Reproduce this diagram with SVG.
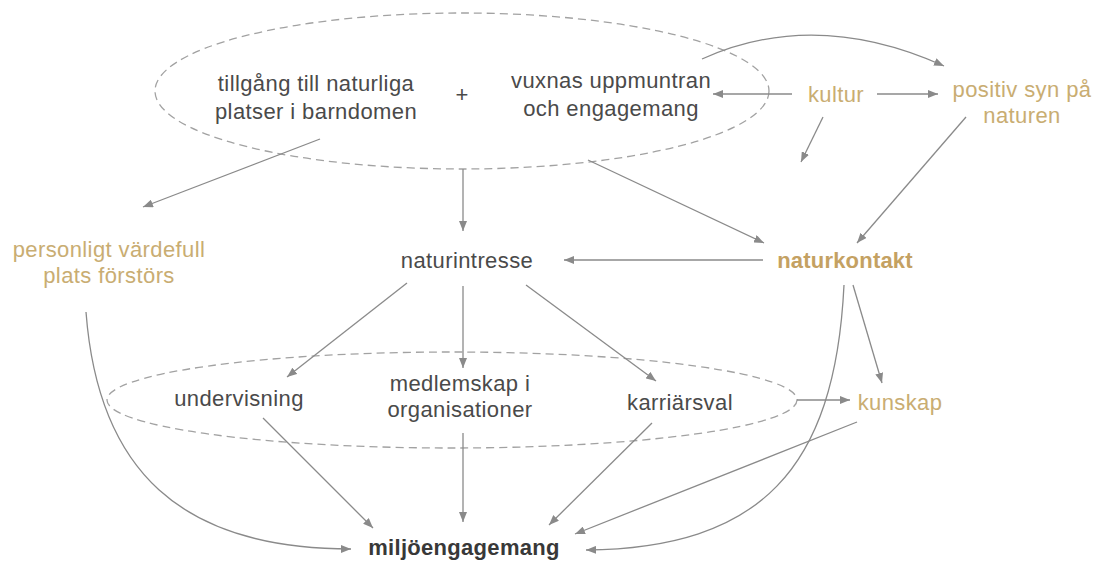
<svg xmlns="http://www.w3.org/2000/svg" width="1101" height="562" viewBox="0 0 1101 562">
<style>
text{font-family:"Liberation Sans",Arial,Helvetica,sans-serif;font-size:22px;text-anchor:middle;letter-spacing:0.4px}
.dk{fill:#4a4a4a}
.gd{fill:#c9ad72}
.bgd{fill:#c4a162;font-weight:bold;letter-spacing:0.2px}
.bdk{fill:#383838;font-weight:bold;letter-spacing:0.3px}
.grp{fill:none;stroke:#a2a2a2;stroke-width:1.3;stroke-dasharray:8 5}
.c{fill:none;stroke:#8a8a8a;stroke-width:1.3;marker-end:url(#ah)}
</style>
<defs>
<marker id="ah" markerUnits="userSpaceOnUse" markerWidth="10" markerHeight="8" refX="10" refY="4" orient="auto">
<path d="M0,0 L10,4 L0,8 z" fill="#8a8a8a"/>
</marker>
</defs>
<rect width="1101" height="562" fill="#ffffff"/>
<g id="group-top"><ellipse class="grp" cx="462" cy="91" rx="307" ry="78"/></g>
<g id="group-bottom"><ellipse class="grp" cx="452" cy="400" rx="345" ry="48"/></g>
<g id="connectors">
<path class="c" d="M320,139 L143,207"/>
<path class="c" d="M463,169 L463,231"/>
<path class="c" d="M588,160 L764,243"/>
<path class="c" d="M792,94 L713,94"/>
<path class="c" d="M877,94 L938,94"/>
<path class="c" d="M823,117 L801,162"/>
<path class="c" d="M702,59 Q815,8 944,66"/>
<path class="c" d="M966,117 L857,243"/>
<path class="c" d="M763,260 L564,260"/>
<path class="c" d="M407,283 L287,377"/>
<path class="c" d="M463,286 L463,368"/>
<path class="c" d="M526,285 L656,381"/>
<path class="c" d="M853,285 L882,383"/>
<path class="c" d="M844,285 C835,470 760,548 586,550"/>
<path class="c" d="M797,400 L850,400"/>
<path class="c" d="M86,312 C98,470 180,549 351,549"/>
<path class="c" d="M263,418 L373,528"/>
<path class="c" d="M463,433 L463,522"/>
<path class="c" d="M652,423 L549,525"/>
<path class="c" d="M857,422 L575,534"/>
</g>
<g id="node-tillgang"><text class="dk" x="316" y="91">tillgång till naturliga</text><text class="dk" x="316" y="119">platser i barndomen</text></g>
<g id="node-plus"><text class="dk" x="462" y="102">+</text></g>
<g id="node-vuxnas"><text class="dk" x="611" y="88">vuxnas uppmuntran</text><text class="dk" x="611" y="116">och engagemang</text></g>
<g id="node-kultur"><text class="gd" x="836" y="102">kultur</text></g>
<g id="node-positiv"><text class="gd" x="1022" y="97">positiv syn på</text><text class="gd" x="1022" y="123">naturen</text></g>
<g id="node-personligt"><text class="gd" x="109" y="257">personligt värdefull</text><text class="gd" x="109" y="283">plats förstörs</text></g>
<g id="node-naturintresse"><text class="dk" x="467" y="268">naturintresse</text></g>
<g id="node-naturkontakt"><text class="bgd" x="845" y="268">naturkontakt</text></g>
<g id="node-undervisning"><text class="dk" x="239" y="406">undervisning</text></g>
<g id="node-medlemskap"><text class="dk" x="460" y="391">medlemskap i</text><text class="dk" x="460" y="417">organisationer</text></g>
<g id="node-karriarsval"><text class="dk" x="680" y="410">karriärsval</text></g>
<g id="node-kunskap"><text class="gd" x="900" y="410">kunskap</text></g>
<g id="node-miljo"><text class="bdk" x="464" y="555">miljöengagemang</text></g>
</svg>
